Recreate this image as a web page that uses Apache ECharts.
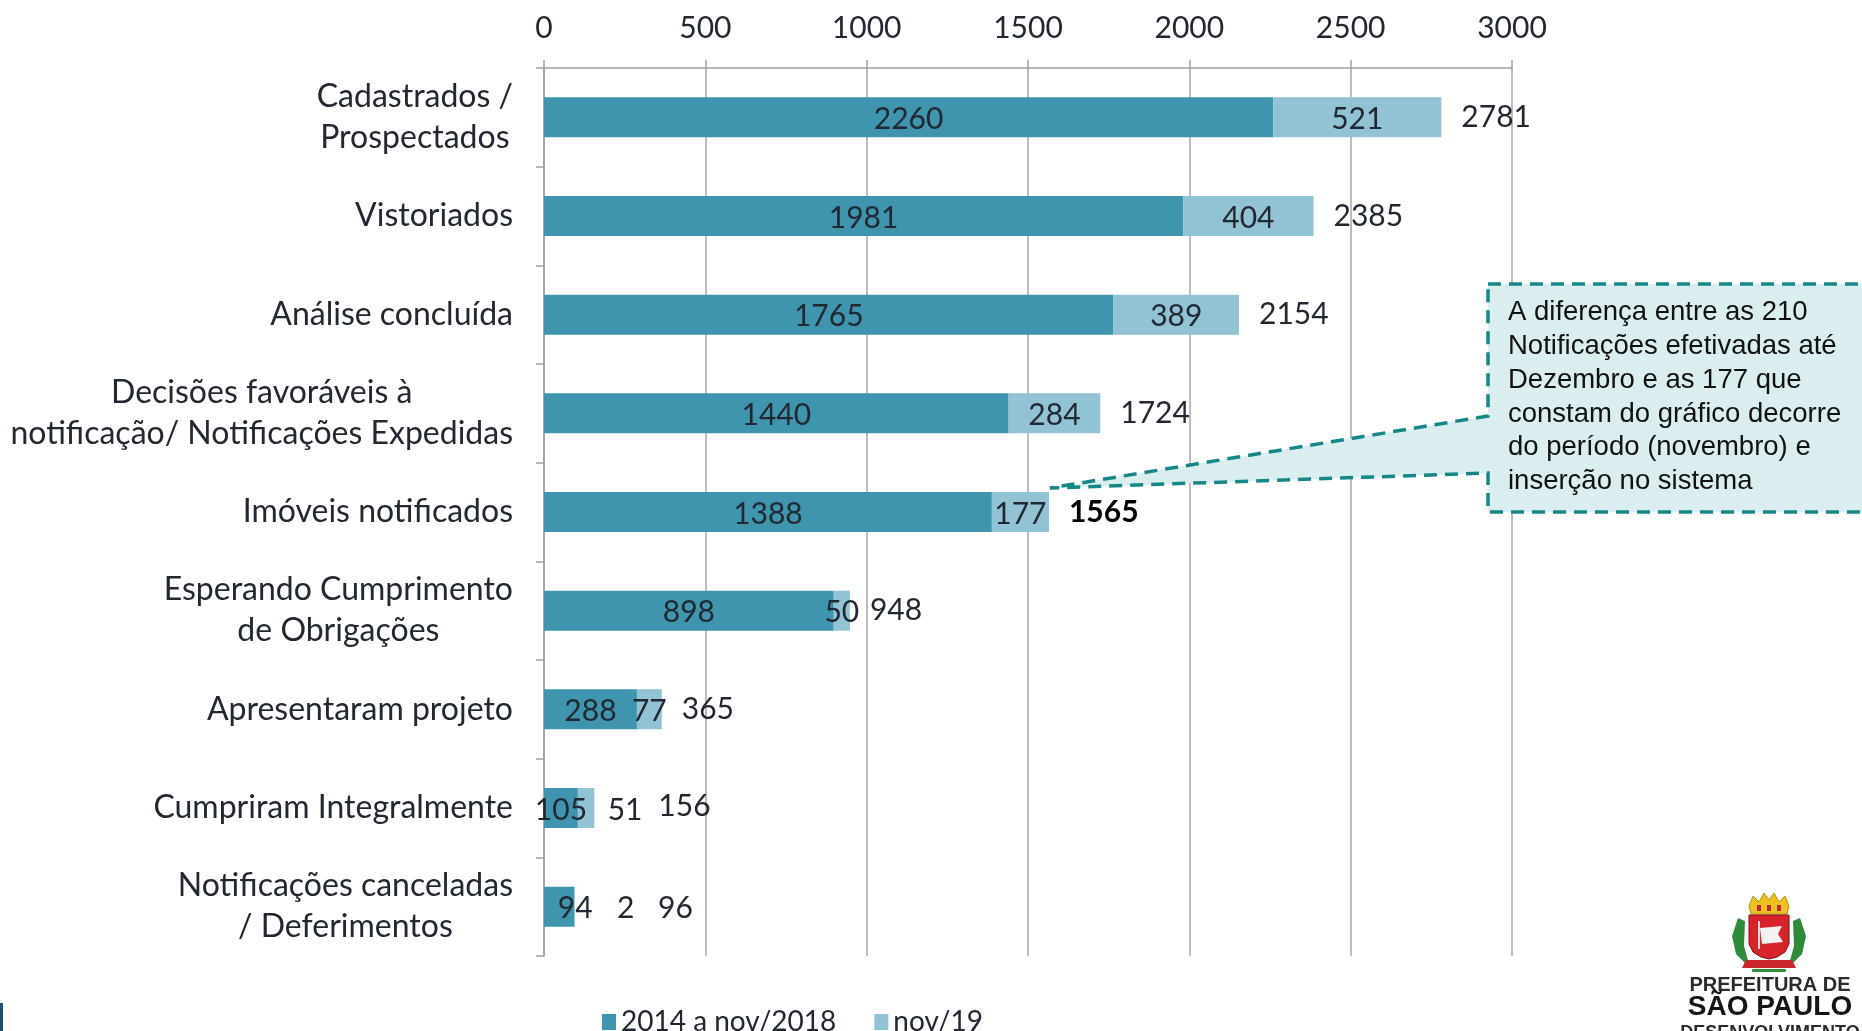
<!DOCTYPE html>
<html><head><meta charset="utf-8">
<script src="https://cdn.jsdelivr.net/npm/echarts@6/dist/echarts.min.js"></script>
<style>html,body{margin:0;padding:0;background:#fff;overflow:hidden}#c{width:1862px;height:1031px}</style>
</head><body><div id="c"></div>
<script>
const categories = [
  'Cadastrados /\nProspectados',
  'Vistoriados',
  'Análise concluída',
  'Decisões favoráveis à\nnotificação/ Notificações Expedidas',
  'Imóveis notificados',
  'Esperando Cumprimento\nde Obrigações',
  'Apresentaram projeto',
  'Cumpriram Integralmente',
  'Notificações canceladas\n/ Deferimentos'
];
const base2018 = [2260, 1981, 1765, 1440, 1388, 898, 288, 105, 94];
const nov19 = [521, 404, 389, 284, 177, 50, 77, 51, 2];
const totals = [2781, 2385, 2154, 1724, 1565, 948, 365, 156, 96];
const xTicks = [0, 500, 1000, 1500, 2000, 2500, 3000];
const seriesNames = ['2014 a nov/2018', 'nov/19'];
const noteLines = [
  'A diferença entre as 210',
  'Notificações efetivadas até',
  'Dezembro e as 177 que',
  'constam do gráfico decorre',
  'do período (novembro) e',
  'inserção no sistema'
];
const logoLines = ['PREFEITURA DE', 'SÃO PAULO', 'DESENVOLVIMENTO'];

const FONT = 'Lato, "Open Sans", sans-serif';
const TXT = '#222831';
const DARK = '#3F95AE';
const LIGHT = '#92C3D4';
const FS = 30;
const CFS = 32;

const chart = echarts.init(document.getElementById('c'), null, {renderer: 'canvas'});

const darkData = base2018.map((v, i) => i === 8 ? {value: v, label: {offset: [16, 2]}} : v);
const lightData = nov19.map((v, i) => {
  if (i === 7) return {value: v, label: {offset: [39, 2]}};
  if (i === 8) return {value: v, label: {offset: [51, 2]}};
  return v;
});
const totalData = totals.map((v, i) => {
  if (i === 4) return {value: v, label: {fontWeight: 'bold', color: '#000'}};
  if (i === 7) return {value: v, label: {offset: [44, -2]}};
  if (i === 8) return {value: v, label: {offset: [63, 2]}};
  return v;
});

const FT = '"Liberation Sans", Arial, sans-serif';

const option = {
  animation: false,
  backgroundColor: '#fff',
  textStyle: {fontFamily: FONT},
  grid: {left: 544, right: 350, top: 68, bottom: 75, containLabel: false},
  legend: {
    data: seriesNames,
    left: 597, top: 1003,
    icon: 'rect', itemWidth: 14, itemHeight: 16, itemGap: 38,
    textStyle: {fontFamily: FONT, fontSize: 28, color: TXT}
  },
  xAxis: {
    type: 'value', position: 'top',
    min: xTicks[0], max: xTicks[xTicks.length - 1], interval: xTicks[1] - xTicks[0],
    axisLine: {show: true, lineStyle: {color: '#A0A0A0', width: 1.5}},
    axisTick: {show: true, length: 8, lineStyle: {color: '#A0A0A0', width: 1.5}},
    splitLine: {show: true, lineStyle: {color: '#A6A6A6', width: 1.5}},
    axisLabel: {margin: 25, fontFamily: FONT, fontSize: FS, color: TXT, formatter: v => String(v)}
  },
  yAxis: {
    type: 'category', inverse: true, data: categories,
    axisLine: {show: true, lineStyle: {color: '#A0A0A0', width: 1.5}},
    axisTick: {show: true, length: 8, lineStyle: {color: '#A0A0A0', width: 1.5}},
    axisLabel: {
      margin: 31, align: 'right',
      formatter: v => v.split('\n').map(s => '{c|' + s + '}').join('\n'),
      rich: {c: {align: 'center', fontFamily: FONT, fontSize: CFS, color: TXT, lineHeight: 41}}
    }
  },
  series: [
    {
      name: seriesNames[0], type: 'bar', stack: 's', barWidth: 40,
      itemStyle: {color: DARK}, data: darkData,
      label: {show: true, position: 'inside', offset: [0, 2], fontFamily: FONT, fontSize: FS, color: TXT}
    },
    {
      name: seriesNames[1], type: 'bar', stack: 's', barWidth: 40,
      itemStyle: {color: LIGHT}, data: lightData,
      label: {show: true, position: 'inside', offset: [0, 2], fontFamily: FONT, fontSize: FS, color: TXT}
    },
    {
      name: 'total', type: 'bar', barWidth: 40, barGap: '-100%', silent: true,
      itemStyle: {color: 'rgba(0,0,0,0)'}, data: totalData, z: 1,
      label: {show: true, position: 'right', distance: 20, fontFamily: FONT, fontSize: FS, color: TXT}
    }
  ],
  graphic: [
    {
      type: 'polygon', z: 100,
      shape: {points: [[1488, 284], [1875, 284], [1875, 512], [1488, 512], [1488, 473], [1050, 488], [1488, 416]]},
      style: {fill: '#DAEDEF', stroke: '#168787', lineWidth: 3.5, lineDash: [13, 8]}
    },
    {
      type: 'text', z: 101,
      style: {text: noteLines.join('\n'), x: 1508, y: 296, font: '27.5px ' + FT, fill: '#111', lineHeight: 33.7}
    },
    {type: 'rect', z: 50, shape: {x: 0, y: 1003, width: 3, height: 28}, style: {fill: '#1F4E79'}},
    // crest (approximation of the city logo)
    {type: 'group', x: 0, y: 6, children: [
      {type: 'polygon', z: 50, shape: {points: [[1738, 912], [1732, 930], [1736, 948], [1750, 962], [1744, 940], [1745, 915]]}, style: {fill: '#2E8B3A'}},
      {type: 'polygon', z: 50, shape: {points: [[1800, 912], [1806, 930], [1802, 948], [1788, 962], [1794, 940], [1793, 915]]}, style: {fill: '#2E8B3A'}},
      {type: 'polygon', z: 51, shape: {points: [[1749, 900], [1753, 890], [1759, 896], [1764, 887], [1769, 894], [1774, 887], [1779, 896], [1785, 890], [1789, 900], [1787, 908], [1751, 908]]}, style: {fill: '#EDC21E', stroke: '#B8900F', lineWidth: 1}},
      {type: 'rect', z: 52, shape: {x: 1757, y: 899, width: 4, height: 6}, style: {fill: '#C8242B'}},
      {type: 'rect', z: 52, shape: {x: 1767, y: 899, width: 4, height: 6}, style: {fill: '#C8242B'}},
      {type: 'rect', z: 52, shape: {x: 1777, y: 899, width: 4, height: 6}, style: {fill: '#C8242B'}},
      {type: 'polygon', z: 51, shape: {points: [[1749, 909], [1789, 909], [1789, 938], [1785, 946], [1777, 951], [1769, 953], [1761, 951], [1753, 946], [1749, 938]]}, style: {fill: '#D9232A', stroke: '#7a1015', lineWidth: 1}},
      {type: 'polygon', z: 52, shape: {points: [[1760, 922], [1782, 920], [1778, 928], [1783, 936], [1762, 938]]}, style: {fill: '#F2F2F2'}},
      {type: 'rect', z: 52, shape: {x: 1758, y: 915, width: 2, height: 28}, style: {fill: '#ddd'}},
      {type: 'polygon', z: 52, shape: {points: [[1746, 954], [1792, 954], [1796, 962], [1742, 962]]}, style: {fill: '#C9252C'}},
      {type: 'rect', z: 50, shape: {x: 1752, y: 963, width: 34, height: 3, r: 1}, style: {fill: '#2E8B3A'}}
    ]},
    {type: 'text', z: 50, style: {text: logoLines[0], x: 1770, y: 985, align: 'center', verticalAlign: 'middle', font: 'bold 20px ' + FT, fill: '#2b2b2b'}},
    {type: 'text', z: 50, style: {text: logoLines[1], x: 1770, y: 1007, align: 'center', verticalAlign: 'middle', font: 'bold 28px ' + FT, fill: '#151515'}},
    {type: 'text', z: 50, style: {text: logoLines[2], x: 1770, y: 1033, align: 'center', verticalAlign: 'middle', font: 'bold 18px ' + FT, fill: '#2b2b2b'}}
  ]
};
chart.setOption(option);
</script>
</body></html>
